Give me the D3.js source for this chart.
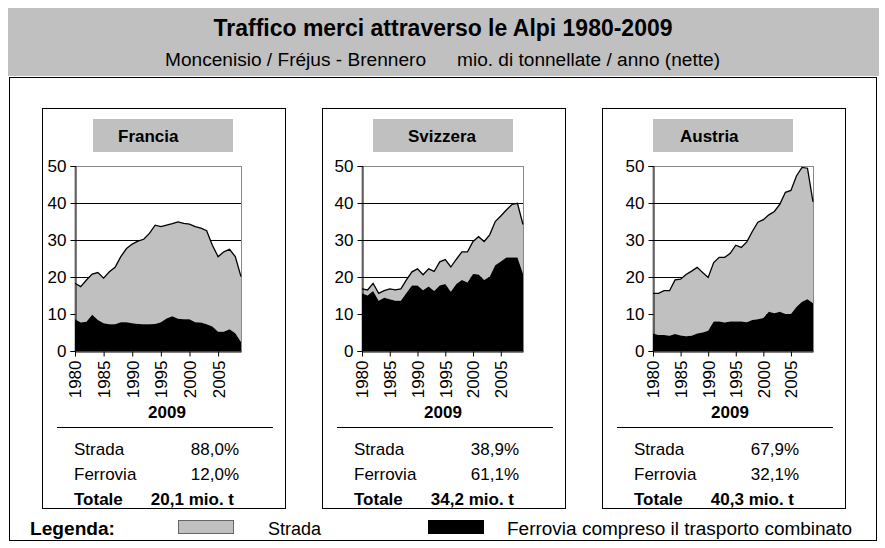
<!DOCTYPE html>
<html>
<head>
<meta charset="utf-8">
<script src="https://cdn.jsdelivr.net/npm/d3@7"></script>
<style>
  body { margin: 0; background: #fff; }
  svg { display: block; font-family: "Liberation Sans", Arial, sans-serif; }
</style>
</head>
<body>
<svg id="chart" width="885" height="548"></svg>
<script>
// years on the category axis
var years = [1980, 1981, 1982, 1983, 1984, 1985, 1986, 1987, 1988, 1989,
  1990, 1991, 1992, 1993, 1994, 1995, 1996, 1997, 1998, 1999,
  2000, 2001, 2002, 2003, 2004, 2005, 2006, 2007, 2008, 2009];
var tickYears = [1980, 1985, 1990, 1995, 2000, 2005];
var yTicks = [0, 10, 20, 30, 40, 50];

// mio. t per year
var franciaFerrovia = [8.6, 7.7, 7.9, 9.8, 8.4, 7.5, 7.2, 7.2, 7.8, 7.8,
  7.5, 7.3, 7.2, 7.2, 7.3, 7.8, 8.8, 9.4, 8.7, 8.6,
  8.6, 7.8, 7.7, 7.2, 6.6, 5.2, 5.2, 5.9, 4.8, 2.4];
var franciaStrada = [9.7, 9.7, 11.3, 11.0, 12.8, 12.2, 14.2, 15.4, 17.7, 19.9,
  21.4, 22.4, 23.0, 24.6, 26.7, 25.8, 25.2, 25.0, 26.2, 25.9,
  25.7, 25.8, 25.5, 25.3, 22.0, 20.3, 21.6, 21.6, 20.7, 17.7];

var svizzeraFerrovia = [15.6, 15.0, 16.2, 13.6, 14.4, 14.0, 13.6, 13.6, 15.7, 17.7,
  17.7, 16.4, 17.4, 16.2, 17.7, 18.1, 16.0, 18.1, 19.2, 18.5,
  20.8, 20.7, 19.2, 20.1, 23.2, 24.2, 25.3, 25.3, 25.3, 20.9];
var svizzeraStrada = [1.2, 1.5, 2.1, 2.0, 1.9, 2.8, 2.9, 3.2, 3.5, 3.7,
  4.5, 4.2, 4.8, 5.3, 6.4, 6.6, 6.7, 6.7, 7.6, 8.3,
  8.8, 10.2, 10.4, 11.3, 11.8, 12.3, 12.8, 14.3, 14.6, 13.3];

var austriaFerrovia = [4.7, 4.3, 4.3, 4.1, 4.6, 4.2, 4.0, 4.1, 4.7, 5.0,
  5.5, 8.0, 8.0, 7.7, 8.0, 8.0, 8.0, 7.8, 8.4, 8.6,
  8.9, 10.6, 10.2, 10.6, 10.0, 10.0, 11.9, 13.3, 14.0, 12.9];
var austriaStrada = [10.9, 11.3, 12.0, 12.2, 14.6, 15.2, 16.7, 17.5, 17.9, 16.2,
  14.4, 15.9, 17.3, 17.6, 18.4, 20.6, 20.0, 21.7, 23.9, 26.2,
  26.6, 26.2, 27.5, 29.1, 32.9, 33.4, 35.4, 36.3, 35.4, 27.4];

var tableLabels = ["Strada", "Ferrovia", "Totale"];
var franciaTable = ["88,0%", "12,0%", "20,1 mio. t"];
var svizzeraTable = ["38,9%", "61,1%", "34,2 mio. t"];
var austriaTable = ["67,9%", "32,1%", "40,3 mio. t"];

var grey = "#c0c0c0";
var font = "Liberation Sans, Arial, sans-serif";

var svg = d3.select("#chart");

// header band
svg.append("rect").attr("x", 8).attr("y", 8).attr("width", 871).attr("height", 68)
  .attr("fill", grey);
svg.append("text").attr("x", 443).attr("y", 36).attr("text-anchor", "middle")
  .attr("font-size", 23).attr("font-weight", "bold")
  .attr("textLength", 459).attr("lengthAdjust", "spacingAndGlyphs")
  .text("Traffico merci attraverso le Alpi 1980-2009");
svg.append("text").attr("x", 165).attr("y", 66).attr("font-size", 18)
  .attr("textLength", 261).attr("lengthAdjust", "spacingAndGlyphs")
  .text("Moncenisio / Fréjus - Brennero");
svg.append("text").attr("x", 457).attr("y", 66).attr("font-size", 18)
  .attr("textLength", 263).attr("lengthAdjust", "spacingAndGlyphs")
  .text("mio. di tonnellate / anno (nette)");

// outer frame
svg.append("rect").attr("x", 9.5).attr("y", 77.5).attr("width", 867).attr("height", 463)
  .attr("fill", "none").attr("stroke", "#000");

var panels = [
  { name: "Francia", left: 42, plotL: 75, plotR: 241, labelDx: 25, yearDx: 125,
    ferrovia: franciaFerrovia, strada: franciaStrada, table: franciaTable },
  { name: "Svizzera", left: 322, plotL: 362, plotR: 523, labelDx: 35, yearDx: 121,
    ferrovia: svizzeraFerrovia, strada: svizzeraStrada, table: svizzeraTable },
  { name: "Austria", left: 602, plotL: 653, plotR: 813, labelDx: 27, yearDx: 128,
    ferrovia: austriaFerrovia, strada: austriaStrada, table: austriaTable }
];

var plotTop = 166, plotBottom = 351;

panels.forEach(function(p) { makePanel(p); });

function makePanel(p) {
  var g = svg.append("g");

  g.append("rect").attr("x", p.left + 0.5).attr("y", 108.5).attr("width", 243).attr("height", 400)
    .attr("fill", "#fff").attr("stroke", "#000");

  // country label box
  g.append("rect").attr("x", p.left + 51).attr("y", 119).attr("width", 140).attr("height", 33)
    .attr("fill", grey);
  g.append("text").attr("x", p.left + 51 + p.labelDx).attr("y", 142)
    .attr("font-size", 17).attr("font-weight", "bold").text(p.name);

  var x = d3.scaleLinear().domain([years[0], years[years.length - 1]])
    .range([p.plotL, p.plotR]);
  var y = d3.scaleLinear().domain([0, 50]).range([plotBottom, plotTop]);

  var rows = years.map(function(yr, i) {
    return { year: yr, ferrovia: p.ferrovia[i], strada: p.strada[i] };
  });
  var series = d3.stack().keys(["ferrovia", "strada"])(rows);

  var area = d3.area()
    .x(function(d) { return x(d.data.year); })
    .y0(function(d) { return y(d[0]); })
    .y1(function(d) { return y(d[1]); });

  // plot border (grey on top/right)
  g.append("rect").attr("x", p.plotL).attr("y", plotTop + 0.5)
    .attr("width", p.plotR - p.plotL + 0.5).attr("height", plotBottom - plotTop)
    .attr("fill", "#fff").attr("stroke", "#888");

  // gridlines
  g.selectAll(".grid").data(yTicks.slice(1, -1)).enter().append("line")
    .attr("x1", p.plotL).attr("x2", p.plotR)
    .attr("y1", function(d) { return Math.round(y(d)) + 0.5; })
    .attr("y2", function(d) { return Math.round(y(d)) + 0.5; })
    .attr("stroke", "#000");

  g.append("path").attr("d", area(series[1])).attr("fill", grey);
  g.append("path").attr("d", area(series[0])).attr("fill", "#000");

  // black outline on the total
  var topLine = d3.line()
    .x(function(d) { return x(d.data.year); })
    .y(function(d) { return y(d[1]); });
  g.append("path").attr("d", topLine(series[1]))
    .attr("fill", "none").attr("stroke", "#000").attr("stroke-width", 1.3);

  // axes
  var yAxis = d3.axisLeft(y).tickValues(yTicks).tickSize(5).tickPadding(4);
  var ya = g.append("g").attr("transform", "translate(" + (p.plotL + 0.5) + ",0)").call(yAxis);
  ya.selectAll("text").attr("font-size", 17).attr("font-family", font).attr("fill", "#000");
  ya.select(".domain").attr("stroke", "#000");

  var xAxis = d3.axisBottom(x).tickValues(tickYears).tickFormat(d3.format("d"))
    .tickSize(5).tickSizeOuter(0);
  var xa = g.append("g").attr("transform", "translate(0," + (plotBottom + 0.5) + ")").call(xAxis);
  xa.selectAll("text").attr("font-size", 17).attr("font-family", font)
    .attr("fill", "#000")
    .attr("text-anchor", "end")
    .attr("transform", "rotate(-90)")
    .attr("x", -9).attr("y", 0).attr("dy", "0.35em");
  xa.select(".domain").attr("stroke", "#000");

  g.append("text").attr("x", p.left + p.yearDx).attr("y", 418).attr("text-anchor", "middle")
    .attr("font-size", 17).attr("font-weight", "bold").text("2009");

  // 2009 shares table
  g.append("line").attr("x1", p.left + 15).attr("x2", p.left + 231)
    .attr("y1", 427.5).attr("y2", 427.5).attr("stroke", "#000");

  tableLabels.forEach(function(lbl, i) {
    var yy = 455 + i * 25;
    var bold = i === 2;
    g.append("text").attr("x", p.left + 32).attr("y", yy).attr("font-size", 17)
      .attr("font-weight", bold ? "bold" : "normal").text(lbl);
    g.append("text")
      .attr("x", bold ? p.left + 192 : p.left + 197)
      .attr("text-anchor", "end")
      .attr("y", yy).attr("font-size", 17)
      .attr("font-weight", bold ? "bold" : "normal").text(p.table[i]);
  });
}

// legend
svg.append("text").attr("x", 30).attr("y", 535).attr("font-size", 18)
  .attr("font-weight", "bold").attr("textLength", 85).attr("lengthAdjust", "spacingAndGlyphs")
  .text("Legenda:");
svg.append("rect").attr("x", 178.5).attr("y", 520.5).attr("width", 55).attr("height", 13)
  .attr("fill", grey).attr("stroke", "#666");
svg.append("text").attr("x", 268).attr("y", 535).attr("font-size", 18).text("Strada");
svg.append("rect").attr("x", 428).attr("y", 520).attr("width", 56).attr("height", 14)
  .attr("fill", "#000");
svg.append("text").attr("x", 507).attr("y", 535).attr("font-size", 18)
  .attr("textLength", 345).attr("lengthAdjust", "spacingAndGlyphs")
  .text("Ferrovia compreso il trasporto combinato");
</script>
</body>
</html>
